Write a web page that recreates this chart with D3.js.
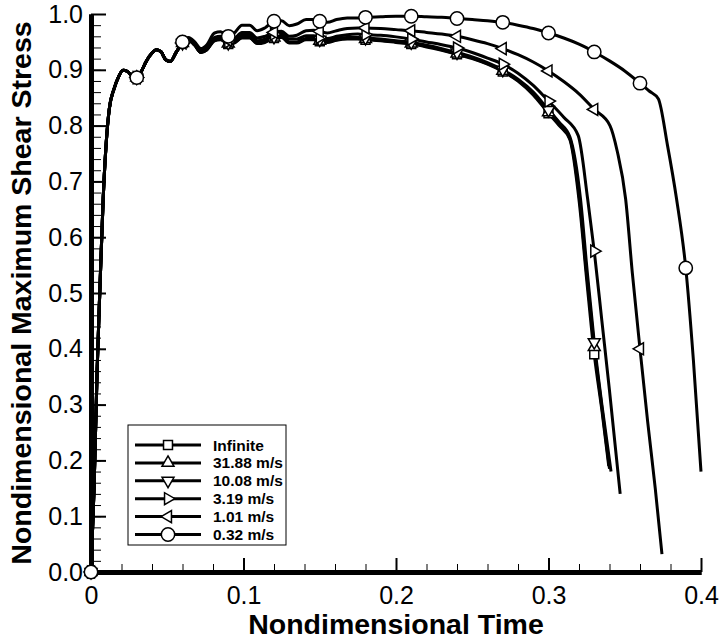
<!DOCTYPE html>
<html>
<head>
<meta charset="utf-8">
<script src="https://cdn.jsdelivr.net/npm/d3@7"></script>
<style>
  body { margin: 0; background: #fff; }
  svg { display: block; font-family: Arial, "Liberation Sans", sans-serif; }
  .axis path.domain { stroke: #000; stroke-width: 5; }
  .axis .tick line { stroke: #000; stroke-width: 2; }
  .axis.minor .tick line { stroke-width: 1; }
  .axis text { font-size: 25px; fill: #000; }
  .axis-title { font-size: 28.5px; font-weight: bold; }
  .legend-text { font-size: 15.5px; font-weight: bold; }
</style>
</head>
<body>
<svg id="chart"></svg>
<script>
// legend order = draw order, circle ends up on top
const labels = ['Infinite', '31.88 m/s', '10.08 m/s', '3.19 m/s', '1.01 m/s', '0.32 m/s'];
const markerKinds = ['square', 'up', 'down', 'right', 'left', 'circle'];

const xTicks = [0, 0.1, 0.2, 0.3, 0.4];
const yTicks = [0, 0.1, 0.2, 0.3, 0.4, 0.5, 0.6, 0.7, 0.8, 0.9, 1.0];
const markerTimes = [0, 0.03, 0.06, 0.09, 0.12, 0.15, 0.18, 0.21, 0.24, 0.27, 0.30, 0.33, 0.36, 0.39];

// common start-up part, all runs lie on top of each other here
const rise = [[0,0],[0.002,0.15],[0.004,0.36],[0.006,0.52],[0.008,0.67],[0.010,0.77],[0.012,0.83],
  [0.015,0.865],[0.018,0.887],[0.021,0.899],[0.024,0.897],[0.027,0.888],[0.030,0.886],[0.033,0.897],
  [0.036,0.914],[0.040,0.930],[0.043,0.936],[0.046,0.932],[0.049,0.918],[0.052,0.915],[0.056,0.932]];

const infinite = [[0.060,0.948],[0.064,0.953],[0.068,0.944],[0.072,0.931],[0.076,0.936],[0.081,0.952],[0.085,0.954],
  [0.090,0.946],[0.094,0.948],[0.099,0.957],[0.104,0.957],[0.109,0.947],[0.114,0.949],[0.120,0.957],[0.125,0.958],
  [0.130,0.948],[0.135,0.948],[0.141,0.954],[0.146,0.954],[0.150,0.951],[0.155,0.949],[0.161,0.953],[0.168,0.955],
  [0.175,0.955],[0.18,0.954],[0.19,0.952],[0.20,0.949],[0.21,0.946],[0.22,0.941],[0.23,0.935],[0.24,0.928],
  [0.25,0.920],[0.26,0.910],[0.27,0.897],[0.28,0.880],[0.29,0.855],[0.30,0.822],[0.307,0.800],[0.314,0.775],
  [0.3202,0.662],[0.325,0.525],[0.33,0.39],[0.335,0.29],[0.3395,0.19]];

const v3188 = [[0.060,0.948],[0.064,0.953],[0.068,0.944],[0.072,0.931],[0.076,0.936],[0.081,0.953],[0.085,0.955],
  [0.090,0.947],[0.094,0.949],[0.099,0.958],[0.104,0.958],[0.109,0.948],[0.114,0.950],[0.120,0.958],[0.125,0.959],
  [0.130,0.949],[0.135,0.949],[0.141,0.955],[0.146,0.955],[0.150,0.952],[0.155,0.950],[0.161,0.954],[0.168,0.956],
  [0.175,0.956],[0.18,0.955],[0.19,0.953],[0.20,0.950],[0.21,0.947],[0.22,0.942],[0.23,0.936],[0.24,0.929],
  [0.25,0.921],[0.26,0.911],[0.27,0.898],[0.28,0.881],[0.29,0.857],[0.30,0.824],[0.307,0.802],[0.314,0.777],
  [0.3205,0.665],[0.325,0.535],[0.33,0.403],[0.335,0.295],[0.34,0.185]];

const v1008 = [[0.060,0.948],[0.064,0.954],[0.068,0.945],[0.072,0.932],[0.076,0.937],[0.081,0.954],[0.085,0.956],
  [0.090,0.948],[0.094,0.950],[0.099,0.959],[0.104,0.959],[0.109,0.949],[0.114,0.951],[0.120,0.959],[0.125,0.960],
  [0.130,0.950],[0.135,0.950],[0.141,0.956],[0.146,0.957],[0.150,0.954],[0.155,0.952],[0.161,0.956],[0.168,0.958],
  [0.175,0.958],[0.18,0.957],[0.19,0.955],[0.20,0.952],[0.21,0.949],[0.22,0.944],[0.23,0.938],[0.24,0.931],
  [0.25,0.923],[0.26,0.913],[0.27,0.900],[0.28,0.883],[0.29,0.860],[0.30,0.828],[0.307,0.806],[0.314,0.780],
  [0.321,0.668],[0.325,0.55],[0.33,0.412],[0.335,0.30],[0.341,0.18]];

const v319 = [[0.060,0.948],[0.064,0.954],[0.068,0.945],[0.072,0.932],[0.076,0.938],[0.081,0.955],[0.085,0.957],
  [0.090,0.950],[0.094,0.952],[0.099,0.962],[0.104,0.962],[0.109,0.952],[0.114,0.955],[0.120,0.964],[0.125,0.965],
  [0.130,0.955],[0.135,0.955],[0.141,0.961],[0.146,0.961],[0.150,0.958],[0.155,0.956],[0.161,0.960],[0.168,0.963],
  [0.175,0.964],[0.18,0.963],[0.19,0.962],[0.20,0.959],[0.21,0.955],[0.22,0.950],[0.23,0.945],[0.24,0.939],
  [0.25,0.931],[0.26,0.921],[0.27,0.910],[0.28,0.894],[0.29,0.872],[0.30,0.844],[0.31,0.815],[0.3195,0.782],
  [0.3257,0.668],[0.33,0.575],[0.335,0.45],[0.34,0.325],[0.347,0.14]];

const v101 = [[0.060,0.948],[0.064,0.955],[0.068,0.946],[0.072,0.934],[0.076,0.940],[0.081,0.958],[0.085,0.960],
  [0.090,0.953],[0.094,0.956],[0.099,0.967],[0.104,0.967],[0.109,0.957],[0.114,0.960],[0.120,0.967],[0.125,0.969],
  [0.130,0.960],[0.135,0.962],[0.141,0.970],[0.146,0.971],[0.150,0.969],[0.155,0.966],[0.161,0.970],[0.168,0.974],
  [0.175,0.975],[0.18,0.975],[0.19,0.974],[0.20,0.972],[0.21,0.970],[0.22,0.967],[0.23,0.964],[0.24,0.960],
  [0.25,0.954],[0.26,0.947],[0.27,0.938],[0.28,0.927],[0.29,0.914],[0.30,0.898],[0.31,0.879],[0.32,0.857],
  [0.33,0.829],[0.3403,0.80],[0.345,0.755],[0.3506,0.668],[0.355,0.535],[0.36,0.40],[0.365,0.27],[0.37,0.15],[0.3744,0.032]];

const v032 = [[0.060,0.950],[0.064,0.958],[0.068,0.950],[0.072,0.938],[0.076,0.945],[0.081,0.966],[0.085,0.968],
  [0.090,0.960],[0.094,0.966],[0.099,0.980],[0.104,0.980],[0.109,0.970],[0.114,0.975],[0.120,0.987],[0.125,0.988],
  [0.130,0.979],[0.135,0.982],[0.141,0.990],[0.146,0.990],[0.150,0.987],[0.155,0.985],[0.161,0.990],[0.168,0.993],
  [0.175,0.993],[0.18,0.994],[0.19,0.995],[0.20,0.996],[0.21,0.996],[0.22,0.995],[0.23,0.994],[0.24,0.992],
  [0.25,0.990],[0.26,0.988],[0.27,0.985],[0.28,0.980],[0.29,0.974],[0.30,0.966],[0.31,0.957],[0.32,0.946],
  [0.33,0.932],[0.34,0.916],[0.35,0.898],[0.36,0.876],[0.366,0.862],[0.372,0.848],[0.378,0.765],[0.384,0.668],
  [0.39,0.545],[0.395,0.38],[0.40,0.18]];

const tails = [infinite, v3188, v1008, v319, v101, v032];

const width = 720, height = 642;
const margin = {top: 14, right: 19, bottom: 70, left: 91};
const innerW = width - margin.left - margin.right;
const innerH = height - margin.top - margin.bottom;

const svg = d3.select('#chart').attr('width', width).attr('height', height);
const chart = svg.append('g').attr('transform', `translate(${margin.left},${margin.top})`);

const xScale = d3.scaleLinear().domain([0, 0.4]).range([0, innerW]);
const yScale = d3.scaleLinear().domain([0, 1]).range([innerH, 0]);

// minor ticks first so the thick domain line sits over them
const xMinor = d3.range(0, 0.4001, 0.02);
const yMinor = d3.range(0, 1.0001, 0.02);

chart.append('g').attr('class', 'axis minor')
  .attr('transform', `translate(0,${innerH})`)
  .call(d3.axisBottom(xScale).tickValues(xMinor).tickSize(-8).tickSizeOuter(0).tickFormat(''));
chart.append('g').attr('class', 'axis minor')
  .call(d3.axisLeft(yScale).tickValues(yMinor).tickSize(-10).tickSizeOuter(0).tickFormat(''));

chart.append('g').attr('class', 'axis x-axis')
  .attr('transform', `translate(0,${innerH})`)
  .call(d3.axisBottom(xScale).tickValues(xTicks).tickSize(-14).tickSizeOuter(0).tickPadding(14)
    .tickFormat(d => d === 0 ? '0' : d3.format('.1f')(d)));
chart.append('g').attr('class', 'axis y-axis')
  .call(d3.axisLeft(yScale).tickValues(yTicks).tickSize(-15).tickSizeOuter(0).tickPadding(8)
    .tickFormat(d3.format('.1f')));

svg.append('text').attr('class', 'axis-title')
  .attr('x', margin.left + innerW / 2).attr('y', 634)
  .attr('text-anchor', 'middle')
  .text('Nondimensional Time');

svg.append('text').attr('class', 'axis-title')
  .attr('transform', `translate(31,${margin.top + innerH / 2}) rotate(-90)`)
  .attr('text-anchor', 'middle')
  .text('Nondimensional Maximum Shear Stress');

const line = d3.line()
  .x(d => xScale(d[0]))
  .y(d => yScale(d[1]))
  .curve(d3.curveMonotoneX);

const series = tails.map((tail, i) => ({
  label: labels[i],
  kind: markerKinds[i],
  points: rise.concat(tail)
}));

function markerPath(kind) {
  if (kind === 'circle') return d3.symbol(d3.symbolCircle, 140)();
  if (kind === 'square') return d3.symbol(d3.symbolSquare, 80)();
  return d3.symbol(d3.symbolTriangle, 62)();
}
const rotation = {up: 0, down: 180, right: 90, left: -90, square: 0, circle: 0};

const plot = chart.append('g');

series.forEach(s => {
  plot.append('path')
    .datum(s.points)
    .attr('fill', 'none')
    .attr('stroke', '#000')
    .attr('stroke-width', 3)
    .attr('d', line);
});

series.forEach(s => {
  // marker value
  const along = d3.scaleLinear().domain(s.points.map(d => d[0])).range(s.points.map(d => d[1]));
  const last = s.points[s.points.length - 1][0];
  const pts = markerTimes.filter(t => t <= last).map(t => [t, along(t)]);
  plot.selectAll(null)
    .data(pts)
    .join('path')
      .attr('d', markerPath(s.kind))
      .attr('transform', d => `translate(${xScale(d[0])},${yScale(d[1])}) rotate(${rotation[s.kind]})`)
      .attr('fill', '#fff')
      .attr('stroke', '#000')
      .attr('stroke-width', 1.5);
});

// legend
const legend = svg.append('g').attr('transform', 'translate(128,425)');
legend.append('rect')
  .attr('width', 158).attr('height', 120)
  .attr('fill', '#fff').attr('stroke', '#000').attr('stroke-width', 1);

const rows = legend.selectAll('.row')
  .data(series)
  .join('g')
    .attr('class', 'row')
    .attr('transform', (d, i) => `translate(0,${20 + i * 17.9})`);
rows.append('line')
  .attr('x1', 7).attr('x2', 73)
  .attr('stroke', '#000').attr('stroke-width', 3);
rows.append('path')
  .attr('d', d => markerPath(d.kind))
  .attr('transform', d => `translate(40,0) rotate(${rotation[d.kind]})`)
  .attr('fill', '#fff').attr('stroke', '#000').attr('stroke-width', 1.5);
rows.append('text')
  .attr('class', 'legend-text')
  .attr('x', 85).attr('dy', '0.36em')
  .text(d => d.label);
</script>
</body>
</html>
